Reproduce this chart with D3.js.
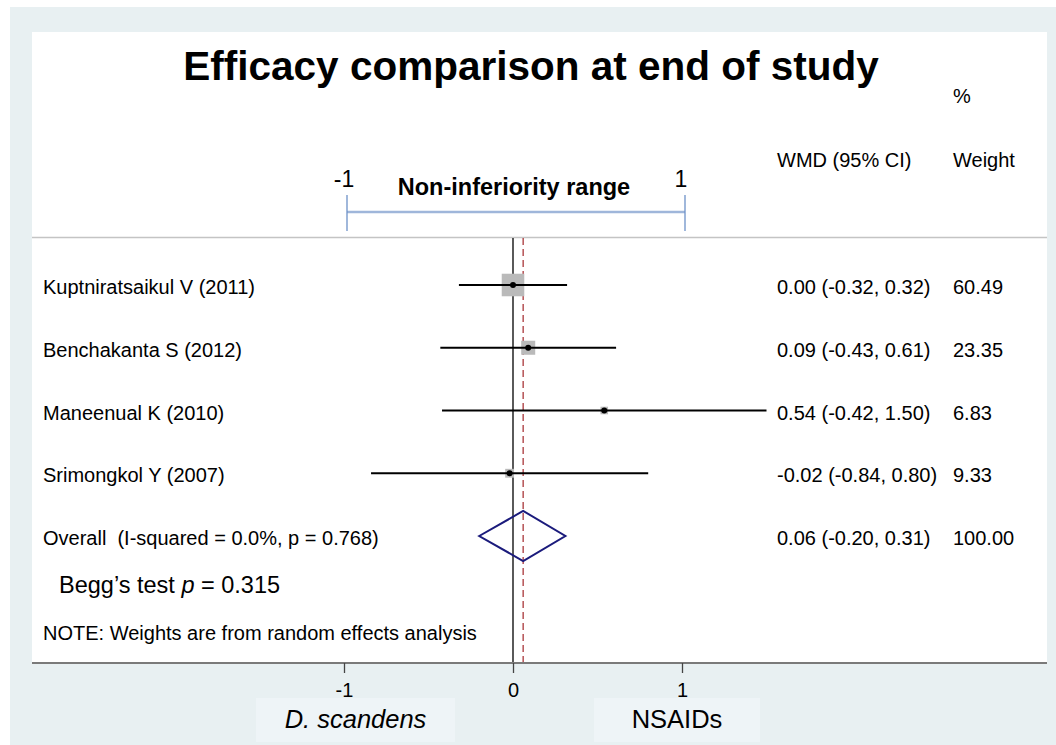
<!DOCTYPE html>
<html>
<head>
<meta charset="utf-8">
<script src="https://cdn.jsdelivr.net/npm/d3@7"></script>
<style>
  body { margin: 0; background: #fff; }
  text { font-family: "Liberation Sans", Arial, sans-serif; fill: #000; white-space: pre; }
</style>
</head>
<body>
<svg id="chart" width="1056" height="745"></svg>
<script>
// Study data
var studies = ["Kuptniratsaikul V (2011)", "Benchakanta S (2012)", "Maneenual K (2010)", "Srimongkol Y (2007)"];
var wmd = [0.00, 0.09, 0.54, -0.02];
var lower = [-0.32, -0.43, -0.42, -0.84];
var upper = [0.32, 0.61, 1.50, 0.80];
var weights = [60.49, 23.35, 6.83, 9.33];

// Pooled estimate
var overallLabel = "Overall  (I-squared = 0.0%, p = 0.768)";
var overallWmd = 0.06;
var overallLower = -0.20;
var overallUpper = 0.31;
var overallWeight = 100.00;

var xTicks = [-1, 0, 1];
var margins = [-1, 1];

var width = 1056, height = 745;
var svg = d3.select("#chart");

// Background and white plot panel
svg.append("rect").attr("x", 10).attr("y", 7).attr("width", width - 10).attr("height", height - 7)
  .attr("fill", "#e8f0f2");
svg.append("rect").attr("x", 32).attr("y", 32).attr("width", 1015).attr("height", 631)
  .attr("fill", "#fff");

// Scales
var x = d3.scaleLinear().domain([-1, 1]).range([344, 682]);
var y = d3.scaleLinear().domain([0, 4]).range([285, 536]);
var boxSize = d3.scaleSqrt().domain([0, 100]).range([0, 29]);
var fmt = function(v) { return v.toFixed(2); };

// Title and column headers
svg.append("text").attr("x", 531).attr("y", 80).attr("text-anchor", "middle")
  .attr("font-size", "40.5px").attr("font-weight", "700")
  .text("Efficacy comparison at end of study");
svg.append("text").attr("x", 953).attr("y", 103).attr("font-size", "20px").text("%");
svg.append("text").attr("x", 777).attr("y", 167).attr("font-size", "20px").text("WMD (95% CI)");
svg.append("text").attr("x", 953).attr("y", 167).attr("font-size", "20px").text("Weight");

// Non-inferiority bracket
var bx0 = x(margins[0]) + 3, bx1 = x(margins[1]) + 3;
svg.append("line").attr("x1", bx0).attr("x2", bx1).attr("y1", 212).attr("y2", 212)
  .attr("stroke", "#9fb6da").attr("stroke-width", 2.5);
svg.selectAll(".btick")
  .data([bx0, bx1])
  .enter()
  .append("line")
  .attr("x1", function(d) { return d; })
  .attr("x2", function(d) { return d; })
  .attr("y1", 195)
  .attr("y2", 231)
  .attr("stroke", "#6d91c8")
  .attr("stroke-width", 1.3);
svg.selectAll(".blabel")
  .data(margins)
  .enter()
  .append("text")
  .attr("x", function(d, i) { return i === 0 ? bx0 - 3 : bx1 - 4; })
  .attr("y", 187)
  .attr("text-anchor", "middle")
  .attr("font-size", "23px")
  .text(function(d) { return String(d); });
svg.append("text").attr("x", 514).attr("y", 195).attr("text-anchor", "middle")
  .attr("font-size", "23.5px").attr("font-weight", "700")
  .text("Non-inferiority range");

// Separator below the header
svg.append("line").attr("x1", 32).attr("x2", 1047).attr("y1", 237.5).attr("y2", 237.5)
  .attr("stroke", "#c4c4c4").attr("stroke-width", 1.5);

// Null line and pooled estimate line
svg.append("line").attr("x1", x(0)).attr("x2", x(0)).attr("y1", 238).attr("y2", 663)
  .attr("stroke", "#000").attr("stroke-width", 1.3);
svg.append("line").attr("x1", x(overallWmd)).attr("x2", x(overallWmd)).attr("y1", 238).attr("y2", 663)
  .attr("stroke", "#a3262a").attr("stroke-width", 1.2).attr("stroke-dasharray", "7,4");

// Study rows: weight boxes, CI lines, point estimates
var rows = studies.map(function(s, i) {
  return { name: s, est: wmd[i], lo: lower[i], hi: upper[i], w: weights[i], i: i };
});

svg.selectAll(".wbox")
  .data(rows)
  .enter()
  .append("rect")
  .attr("x", function(d) { return x(d.est) - boxSize(d.w) / 2; })
  .attr("y", function(d) { return y(d.i) - boxSize(d.w) / 2; })
  .attr("width", function(d) { return boxSize(d.w); })
  .attr("height", function(d) { return boxSize(d.w); })
  .attr("fill", "#bababa");

svg.selectAll(".ci")
  .data(rows)
  .enter()
  .append("line")
  .attr("x1", function(d) { return x(d.lo); })
  .attr("x2", function(d) { return x(d.hi); })
  .attr("y1", function(d) { return y(d.i); })
  .attr("y2", function(d) { return y(d.i); })
  .attr("stroke", "#000")
  .attr("stroke-width", 2.2);

svg.selectAll(".pt")
  .data(rows)
  .enter()
  .append("circle")
  .attr("cx", function(d) { return x(d.est); })
  .attr("cy", function(d) { return y(d.i); })
  .attr("r", 3)
  .attr("fill", "#000");

// Pooled diamond
var yo = y(4);
var diamond = [[x(overallLower), yo], [x(overallWmd), yo - 25], [x(overallUpper), yo], [x(overallWmd), yo + 25]];
svg.append("polygon")
  .attr("points", diamond.map(function(p) { return p.join(","); }).join(" "))
  .attr("fill", "none")
  .attr("stroke", "#1b1b7c")
  .attr("stroke-width", 2);

// Row texts
var labels = studies.concat([overallLabel]);
var ests = rows.map(function(d) { return fmt(d.est) + " (" + fmt(d.lo) + ", " + fmt(d.hi) + ")"; })
  .concat([fmt(overallWmd) + " (" + fmt(overallLower) + ", " + fmt(overallUpper) + ")"]);
var wts = weights.map(fmt).concat([fmt(overallWeight)]);

svg.selectAll(".lab")
  .data(labels)
  .enter()
  .append("text")
  .attr("x", 43)
  .attr("y", function(d, i) { return y(i) + 9; })
  .attr("font-size", "20px")
  .text(function(d) { return d; });
svg.selectAll(".est")
  .data(ests)
  .enter()
  .append("text")
  .attr("x", 777)
  .attr("y", function(d, i) { return y(i) + 9; })
  .attr("font-size", "20px")
  .text(function(d) { return d; });
svg.selectAll(".wt")
  .data(wts)
  .enter()
  .append("text")
  .attr("x", 953)
  .attr("y", function(d, i) { return y(i) + 9; })
  .attr("font-size", "20px")
  .text(function(d) { return d; });

// Notes
var begg = svg.append("text").attr("x", 59).attr("y", 593).attr("font-size", "23.5px");
begg.append("tspan").text("Begg\u2019s test ");
begg.append("tspan").attr("font-style", "italic").text("p");
begg.append("tspan").text(" = 0.315");
svg.append("text").attr("x", 43).attr("y", 640).attr("font-size", "20px")
  .text("NOTE: Weights are from random effects analysis");

// Bottom axis
svg.append("line").attr("x1", 32).attr("x2", 1047).attr("y1", 663).attr("y2", 663)
  .attr("stroke", "#7a7a7a").attr("stroke-width", 2);
var axis = svg.append("g").attr("transform", "translate(0,663)")
  .call(d3.axisBottom(x).tickValues(xTicks).tickSize(10).tickPadding(10)
    .tickFormat(function(d) { return String(d); }));
axis.select(".domain").remove();
axis.selectAll(".tick line").attr("stroke", "#444").attr("stroke-width", 1.3);
axis.selectAll(".tick text").attr("font-size", "20px")
  .attr("font-family", "Liberation Sans, Arial, sans-serif").attr("fill", "#000");

// Direction labels
var sides = [
  { text: "D. scandens", x0: 256, x1: 455, italic: true },
  { text: "NSAIDs", x0: 594, x1: 760, italic: false }
];
svg.selectAll(".sidebox")
  .data(sides)
  .enter()
  .append("rect")
  .attr("x", function(d) { return d.x0; })
  .attr("y", 698)
  .attr("width", function(d) { return d.x1 - d.x0; })
  .attr("height", 44)
  .attr("fill", "#eef4f7");
svg.selectAll(".sidetext")
  .data(sides)
  .enter()
  .append("text")
  .attr("x", function(d) { return (d.x0 + d.x1) / 2; })
  .attr("y", 728)
  .attr("text-anchor", "middle")
  .attr("font-size", "25.5px")
  .attr("font-style", function(d) { return d.italic ? "italic" : "normal"; })
  .text(function(d) { return d.text; });
</script>
</body>
</html>
